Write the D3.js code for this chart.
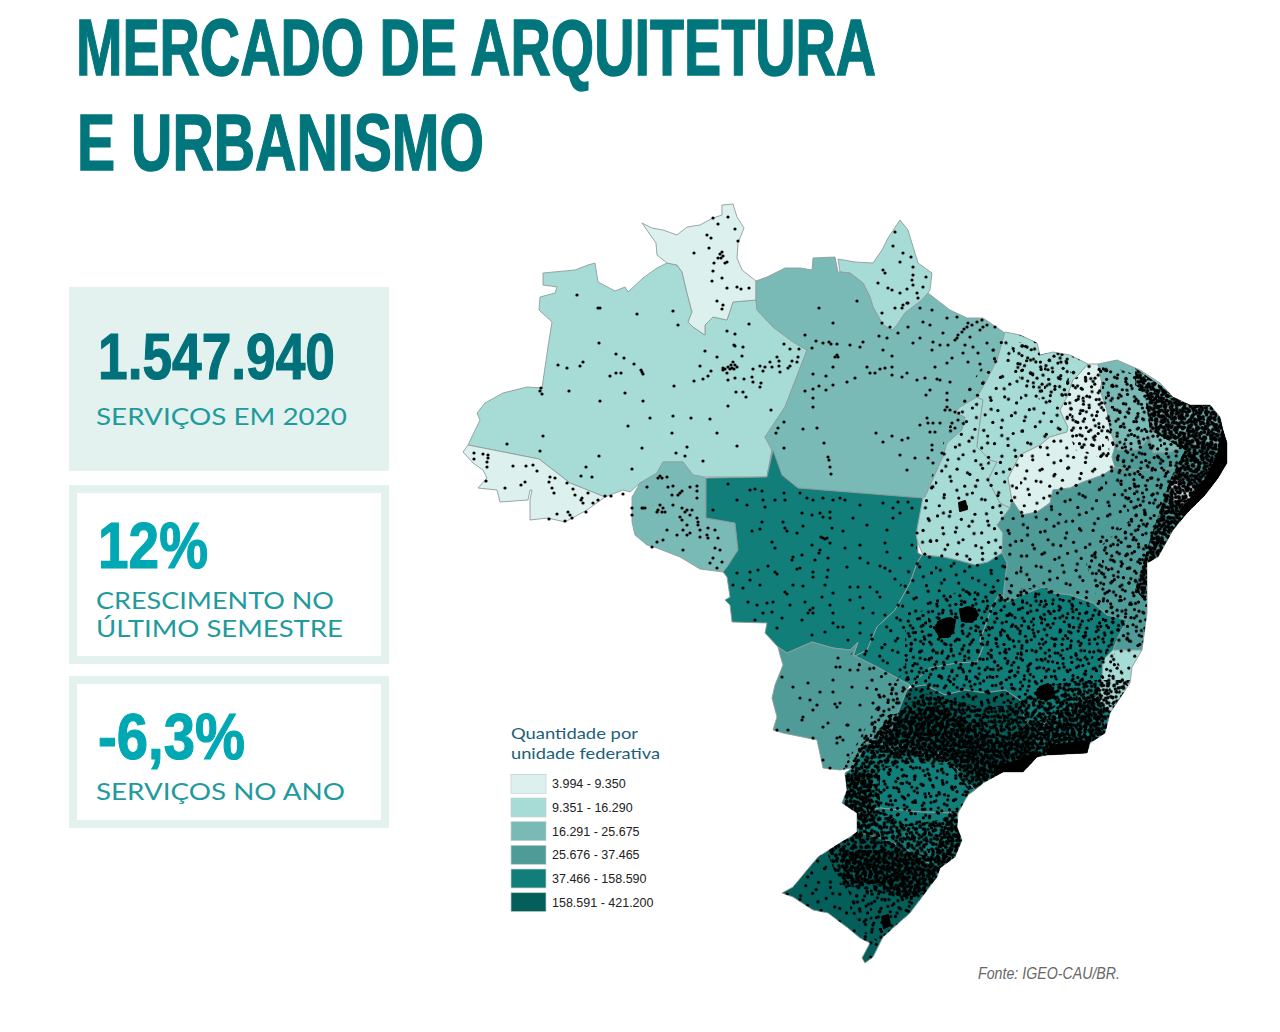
<!DOCTYPE html>
<html>
<head>
<meta charset="utf-8">
<title>Mercado de Arquitetura e Urbanismo</title>
<script src="https://cdn.jsdelivr.net/npm/d3@7"></script>
<style>
  html, body { margin: 0; background: #fff; }
  svg { display: block; }
</style>
</head>
<body>
<div id="chart"></div>
<script>
// legend classes
var classLabels = ["3.994 - 9.350", "9.351 - 16.290", "16.291 - 25.675", "25.676 - 37.465", "37.466 - 158.590", "158.591 - 421.200"];
var classColors = ["#dcf1ee", "#a6dbd6", "#79bab6", "#4f9b98", "#127e7a", "#045e5a"];

var stateNames = ["AM", "RR", "AC", "RO", "AP", "PA", "MT", "TO", "MA", "PI", "CE", "RN", "PB", "PE", "AL", "SE", "BA", "GO", "MS", "MG", "ES", "RJ", "SP", "PR", "SC", "RS"];
var stateClass = [1, 0, 0, 2, 1, 2, 4, 1, 1, 0, 2, 2, 2, 3, 3, 0, 3, 4, 3, 4, 1, 4, 5, 4, 4, 5];

// state outlines, in map units
var AM = [[677,265],[667,263],[657,268],[643,278],[628,292],[625,287],[615,291],[598,282],[595,263],[588,265],[575,270],[543,273],[543,285],[557,287],[555,293],[540,297],[539,310],[552,322],[548,347],[542,388],[527,387],[503,393],[485,403],[477,413],[480,420],[468,445],[539,459],[570,483],[605,497],[623,490],[630,492],[640,483],[657,473],[663,462],[683,462],[693,475],[705,477],[767,477],[772,450],[765,437],[785,407],[807,350],[793,342],[773,327],[757,310],[756,300],[733,302],[727,320],[713,317],[705,325],[705,335],[693,327],[688,322],[692,312],[687,293],[682,272]];
var RR = [[642,223],[652,228],[663,230],[677,235],[687,227],[700,225],[713,218],[722,215],[722,205],[733,204],[737,217],[744,228],[738,243],[737,258],[742,270],[756,281],[756,300],[733,302],[727,320],[713,317],[705,325],[705,335],[693,327],[688,322],[692,312],[687,293],[682,272],[677,265],[667,263],[657,255],[656,243]];
var AC = [[463,452],[473,463],[483,470],[487,478],[478,488],[497,490],[500,502],[528,500],[530,490],[532,490],[530,500],[530,520],[548,518],[565,522],[587,510],[605,497],[570,483],[539,459],[468,445]];
var RO = [[632,497],[640,483],[657,473],[663,462],[683,462],[693,475],[706,478],[706,518],[735,523],[738,550],[727,567],[723,572],[700,569],[680,557],[657,548],[647,545],[635,535],[632,522]];
var AP = [[838,259],[855,262],[873,263],[882,250],[888,238],[900,220],[908,230],[918,263],[932,273],[930,290],[928,293],[922,300],[905,313],[897,325],[892,330],[883,325],[873,307],[870,297],[863,283],[850,273],[840,272]];
var PA = [[807,350],[785,407],[765,437],[772,450],[767,477],[773,450],[782,475],[798,488],[923,498],[925,497],[940,463],[943,457],[947,443],[962,430],[965,417],[955,413],[960,407],[977,397],[983,387],[997,360],[1005,333],[983,318],[967,318],[950,310],[937,300],[928,293],[922,300],[905,313],[897,325],[892,330],[883,325],[873,307],[870,297],[863,283],[850,273],[838,272],[835,257],[813,258],[812,270],[800,268],[785,268],[767,277],[756,281],[756,300],[757,310],[773,327],[793,342]];
var MT = [[706,478],[767,477],[773,450],[782,475],[798,488],[923,498],[917,530],[918,553],[922,555],[917,563],[910,583],[895,610],[877,627],[867,650],[853,657],[858,642],[850,650],[833,648],[812,642],[787,653],[778,647],[765,633],[767,623],[732,622],[730,605],[725,600],[730,597],[727,577],[723,572],[727,567],[738,550],[735,523],[706,518]];
var TO = [[955,413],[960,407],[977,397],[983,400],[978,437],[977,447],[990,460],[997,462],[988,480],[1000,503],[1010,508],[997,525],[1003,533],[1002,553],[988,562],[975,565],[957,560],[943,557],[923,555],[918,543],[916,535],[923,497],[925,497],[940,463],[943,457],[947,443],[962,430],[965,417]];
var MA = [[1005,332],[1020,335],[1037,343],[1040,355],[1053,352],[1070,355],[1088,364],[1080,373],[1073,380],[1067,397],[1060,410],[1063,417],[1068,427],[1067,432],[1050,437],[1040,445],[1020,455],[1008,478],[1012,500],[1010,508],[1000,503],[988,480],[997,462],[990,460],[977,447],[978,437],[983,400],[977,397],[983,387],[997,360]];
var PI = [[1088,364],[1098,364],[1102,383],[1100,390],[1107,410],[1110,430],[1117,440],[1112,457],[1115,467],[1103,475],[1083,482],[1070,488],[1053,490],[1050,503],[1037,512],[1022,515],[1012,500],[1008,478],[1020,455],[1040,445],[1050,437],[1067,432],[1068,427],[1063,417],[1060,410],[1067,397],[1073,380],[1080,373]];
var CE = [[1098,364],[1117,360],[1140,370],[1160,383],[1173,397],[1168,405],[1157,423],[1150,437],[1138,450],[1117,450],[1110,430],[1107,410],[1100,390],[1102,383]];
var RN = [[1168,405],[1173,397],[1190,405],[1210,405],[1220,417],[1223,430],[1180,428],[1165,420],[1157,423]];
var PB = [[1150,437],[1157,423],[1165,420],[1180,428],[1223,430],[1227,443],[1190,445],[1170,452],[1153,453]];
var PE = [[1117,450],[1138,450],[1150,437],[1153,453],[1170,452],[1190,445],[1227,443],[1227,463],[1190,465],[1160,470],[1130,470],[1115,467],[1112,457],[1117,440]];
var AL = [[1160,470],[1190,465],[1227,463],[1218,478],[1205,495],[1175,477]];
var SE = [[1170,480],[1175,477],[1205,495],[1187,513],[1170,495]];
var BA = [[1010,508],[1012,500],[1022,515],[1037,512],[1050,503],[1053,490],[1070,488],[1083,482],[1103,475],[1115,467],[1130,470],[1160,470],[1175,477],[1170,480],[1170,495],[1187,513],[1173,530],[1158,557],[1147,563],[1147,613],[1142,650],[1113,650],[1118,637],[1127,620],[1107,615],[1093,603],[1070,595],[1053,593],[1043,587],[1027,593],[1007,602],[1003,597],[1007,563],[1002,553],[1003,533],[997,525]];
var GO = [[922,555],[943,557],[957,560],[975,565],[988,562],[1002,553],[1007,563],[1003,597],[1000,593],[992,607],[985,627],[980,640],[983,647],[977,662],[957,663],[930,668],[916,680],[912,687],[910,685],[877,667],[853,655],[853,657],[867,650],[877,627],[895,610],[910,583],[917,563]];
var MS = [[778,647],[787,653],[812,642],[833,648],[850,650],[858,642],[853,655],[877,667],[910,685],[907,690],[890,733],[867,743],[852,768],[840,770],[823,768],[817,740],[783,733],[773,730],[777,717],[772,698],[775,685],[783,665],[780,655]];
var MG = [[1003,597],[1007,602],[1027,593],[1043,587],[1053,593],[1070,595],[1093,603],[1107,615],[1127,620],[1118,637],[1113,650],[1103,660],[1102,680],[1097,697],[1080,703],[1060,715],[1045,722],[1035,730],[1025,720],[1020,700],[1005,690],[985,693],[965,690],[945,695],[925,685],[912,687],[916,680],[930,668],[957,663],[977,662],[983,647],[980,640],[985,627],[992,607],[1000,593]];
var ES = [[1113,650],[1142,650],[1132,667],[1130,683],[1110,713],[1097,697],[1102,680],[1103,660]];
var RJ = [[1097,697],[1110,713],[1105,733],[1090,743],[1087,753],[1047,755],[1037,757],[1035,745],[1045,722],[1060,715],[1080,703]];
var SP = [[907,690],[912,687],[925,685],[945,695],[965,690],[985,693],[1005,690],[1020,700],[1025,720],[1035,730],[1045,722],[1035,745],[1037,757],[1023,772],[1003,772],[983,783],[975,790],[958,770],[935,750],[900,745],[867,743],[890,733]];
var PR = [[852,768],[867,743],[900,745],[935,750],[958,770],[975,790],[968,795],[958,813],[920,812],[880,808],[857,813],[842,803],[847,790],[845,773]];
var SC = [[857,813],[880,808],[920,812],[958,813],[957,827],[962,840],[955,857],[940,868],[917,858],[905,848],[880,838],[857,832]];
var RS = [[857,832],[880,838],[905,848],[917,858],[940,868],[937,877],[925,893],[910,913],[893,928],[883,937],[873,957],[865,963],[862,958],[870,943],[860,938],[848,928],[828,913],[813,910],[793,897],[782,893],[793,887],[807,870],[818,857],[840,843],[850,837]];
var stateRings = [AM, RR, AC, RO, AP, PA, MT, TO, MA, PI, CE, RN, PB, PE, AL, SE, BA, GO, MS, MG, ES, RJ, SP, PR, SC, RS];

// service points that can be told apart in the north and centre-west
var pointsNorth = [[713,218],[728,217],[718,224],[735,229],[707,235],[711,238],[738,241],[709,248],[694,253],[722,252],[720,254],[723,256],[721,258],[718,258],[714,263],[725,263],[727,262],[713,271],[712,281],[722,278],[727,288],[737,287],[741,289],[749,288],[717,301],[723,305],[722,309],
[577,295],[598,308],[600,308],[637,314],[673,311],[678,325],[749,324],[727,331],[735,334],[735,346],[734,345],[743,347],[599,343],[705,351],[717,357],[742,356],[616,354],[624,358],[583,362],[580,366],[558,365],[567,368],[634,364],[642,372],[641,370],[643,374],[621,373],[616,373],[610,376],[700,366],[711,371],[708,376],[703,379],[694,381],[733,362],[731,365],[735,365],[728,367],[732,368],[737,367],[730,369],[734,369],[725,369],[723,368],[723,370],[727,373],[728,380],[735,378],[744,379],[753,369],[752,377],[753,382],[760,366],[765,367],[763,371],[770,362],[777,357],[779,361],[772,367],[779,366],[780,372],[792,361],[790,366],[788,368],[797,362],[798,357],[799,349],[790,349],[784,344],[761,383],[760,387],[674,386],[736,392],[743,392],[746,397],[728,406],[771,410],[625,393],[600,401],[643,401],[569,391],[541,388],[542,394],[540,391],[673,416],[691,418],[710,419],[650,418],[628,426],[717,433],[672,433],[543,436],[507,444],[540,451],[642,448],[687,447],[676,453],[685,456],[737,446],[703,461],[599,456],[586,467],[632,469],[581,476],[592,477],
[474,453],[483,454],[488,455],[488,458],[474,459],[487,462],[487,467],[513,466],[526,466],[533,465],[537,471],[486,481],[505,488],[525,482],[521,485],[550,477],[555,478],[549,482],[552,488],[554,493],[567,483],[573,489],[575,495],[582,498],[581,500],[583,503],[588,493],[593,503],[598,500],[557,514],[549,519],[565,521],[568,512],[570,515],[572,518],[586,512],[605,496],[611,496],[623,494],
[647,487],[658,478],[660,476],[662,478],[667,477],[668,487],[673,486],[690,487],[697,486],[697,491],[680,493],[678,495],[682,491],[672,495],[697,498],[660,505],[658,510],[663,508],[642,508],[645,508],[632,508],[632,515],[657,512],[665,512],[673,505],[682,508],[687,510],[685,512],[690,515],[680,517],[697,518],[698,525],[700,530],[687,525],[683,530],[667,530],[677,535],[690,533],[708,528],[707,535],[715,530],[692,510],[643,508],[662,512],[682,520],[698,522],[687,535],[700,537],[708,538],[718,538],[720,550],[715,548],[663,540],[657,542],[683,550],[713,558],[710,563],[717,568],[722,562],[652,547],
[819,308],[833,323],[805,335],[816,341],[823,343],[829,342],[831,344],[837,344],[812,348],[837,355],[835,357],[838,357],[833,367],[813,374],[826,376],[833,385],[819,386],[813,389],[805,391],[826,390],[813,398],[813,407],[803,429],[817,428],[784,422],[778,428],[776,433],[784,448],[824,443],[828,457],[829,460],[830,467],[831,474],
[857,301],[879,336],[887,338],[883,350],[850,345],[860,347],[863,342],[892,356],[867,367],[870,373],[875,373],[880,369],[885,368],[892,367],[892,375],[902,377],[907,373],[847,382],[855,378],[917,380],[925,378],[937,379],[940,380],[950,382],[930,390],[926,395],[947,393],[947,400],[876,433],[892,436],[883,442],[902,440],[908,438],[900,455],[915,458],[907,470],[908,327],[898,333],[920,338],[913,343],[932,310],[923,322],[947,318],[957,317],[930,325],[943,333],[933,342],[940,345],[932,350],[948,345],[965,345],[973,347],[978,353],[963,353],[968,362],[980,364],[952,358],[935,367],[947,363],[970,337],[987,343],[993,350],[983,327],[957,338],[962,332],[967,327],[972,325],[977,322],[982,320],[987,325],[995,327],[955,340],[958,335],[964,329],[968,323],[980,330],
[947,407],[945,410],[950,410],[955,412],[927,418],[928,423],[933,423],[940,423],[930,432],[952,423],[955,428],[958,420],[920,425],[935,432],[932,445],[932,450],[928,458],[933,463],[942,453],
[895,232],[893,246],[903,253],[900,262],[911,257],[883,270],[885,273],[913,267],[913,275],[912,280],[926,277],[878,283],[888,288],[892,290],[900,293],[907,289],[913,285],[917,293],[918,298],[923,287],[895,308],[882,313],[882,323],[890,327],[903,305],[902,308],[907,303],[908,303],[920,308]];

var pointsCentreWest = [[728,484],[750,490],[755,489],[762,491],[737,500],[747,505],[763,500],[765,507],[775,500],[784,493],[785,500],[800,493],[807,498],[813,500],[823,498],[833,500],[840,498],[845,500],[860,505],[883,503],[898,502],[908,502],[893,508],[900,513],[912,508],[820,513],[830,512],[823,517],[830,518],[812,515],[802,513],[713,510],[762,522],[783,522],[785,528],[787,531],[760,529],[752,531],[803,526],[797,533],[832,528],[843,531],[867,525],[853,518],[893,518],[887,530],[917,533],[823,538],[821,537],[825,539],[827,538],[772,542],[775,548],[812,545],[830,543],[820,550],[819,553],[860,545],[885,543],[887,552],[845,548],[912,545],[793,557],[802,555],[815,560],[828,558],[860,558],[868,563],[880,566],[900,558],[792,560],[750,572],[758,570],[768,566],[775,572],[777,574],[800,568],[797,569],[813,572],[813,577],[847,567],[828,570],[885,568],[890,571],[737,573],[733,585],[743,588],[750,580],[760,585],[785,592],[787,594],[793,585],[803,586],[827,577],[825,585],[850,587],[858,587],[870,587],[877,592],[895,579],[833,593],[805,602],[813,608],[810,610],[808,613],[813,613],[748,602],[757,605],[767,603],[773,602],[763,613],[772,612],[790,605],[822,597],[830,605],[850,600],[860,597],[880,597],[833,613],[833,623],[838,627],[843,627],[860,623],[863,608],[885,615],[755,620],[782,618],[802,620],[777,628],[812,635],[825,632],[848,640],[860,633],[873,613],
[838,658],[840,667],[836,667],[850,670],[858,670],[833,680],[782,677],[808,683],[793,687],[852,687],[867,688],[820,692],[833,692],[892,690],[840,703],[837,707],[835,704],[800,698],[810,700],[817,705],[860,705],[883,715],[803,717],[802,720],[813,710],[847,725],[823,727],[840,737],[837,738],[843,740],[828,723],[813,738],[788,730],[777,730],[860,730],[848,725],[867,740],[823,760],[837,743],[848,755],[830,768],[873,703],[880,697],[875,722]];

// areas where the points merge: each level is drawn on top of the one before it
var eastBase = [[955,410],[1005,330],[1100,360],[1230,420],[1230,470],[1150,570],[1150,650],[1130,700],[1090,760],[1000,790],[965,830],[950,870],[880,965],[780,895],[825,845],[845,830],[840,775],[880,700],[850,655],[880,625],[915,555],[925,495]];
var southMid = [[905,620],[960,590],[1005,590],[1043,587],[1125,620],[1113,650],[1130,690],[1090,760],[1000,790],[965,830],[950,870],[920,900],[890,950],[860,930],[845,880],[825,848],[850,830],[840,775],[880,700],[905,670]];
var northeastMid = [[1098,362],[1160,383],[1230,420],[1230,470],[1190,515],[1150,570],[1148,650],[1110,640],[1085,560],[1130,520],[1115,470],[1110,430]];
var maranhaoMid = [[1010,340],[1075,355],[1065,395],[1040,400],[1020,380]];
var piauiMid = [[1062,385],[1100,365],[1108,430],[1110,460],[1075,450],[1065,420]];
var spHeavy = [[893,717],[923,693],[980,707],[1013,705],[1043,687],[1080,680],[1135,680],[1110,735],[1087,755],[1040,760],[1020,775],[985,785],[968,790],[950,765],[905,762],[880,770],[870,790],[850,775],[860,745]];
var southHeavy = [[845,775],[880,775],[880,810],[905,825],[940,820],[958,810],[965,840],[945,870],[925,890],[905,900],[870,890],[840,885],[825,848],[850,835]];
var neCoast = [[1175,398],[1215,405],[1230,440],[1230,470],[1190,518],[1160,556],[1145,600],[1135,590],[1150,540],[1170,480],[1185,450],[1150,430],[1145,395]];
var ceCoast = [[1135,368],[1175,396],[1155,400],[1135,385]];
var spDense = [[890,715],[940,705],[1000,740],[1040,720],[1100,690],[1105,735],[1087,755],[1040,762],[1020,775],[985,785],[950,760],[900,755],[865,750]];
var prWest = [[845,775],[870,770],[875,825],[855,835],[845,805]];
var rsNorth = [[840,850],[900,850],[945,860],[925,893],[905,900],[880,885],[845,880]];
var scCoast = [[950,810],[965,815],[965,845],[945,870],[935,855]];
var lightZones = [eastBase];
var midZones = [southMid, northeastMid, maranhaoMid, piauiMid];
var heavyZones = [spHeavy, southHeavy, neCoast, ceCoast];
var denseZones = [spDense, prWest, rsNorth, scCoast, neCoast, ceCoast];

// merged black patches
var solidPatches = [
  [[955,620],[950,618],[945,619],[938,622],[936,630],[940,637],[948,637],[953,632]],
  [[960,610],[968,607],[975,609],[978,615],[972,622],[962,621]],
  [[1040,687],[1048,684],[1053,690],[1050,698],[1042,699],[1036,694]],
  [[1050,746],[1088,741],[1087,754],[1047,756]],
  [[995,768],[1020,760],[1037,752],[1038,760],[1020,772],[995,775]],
  [[1224,425],[1229,440],[1229,466],[1205,495],[1190,512],[1178,515],[1205,480],[1218,455]],
  [[882,917],[888,915],[890,925],[884,928]],
  [[959,503],[965,501],[967,509],[960,511]]
];

// an irregular hand placed tile of points, repeated for the merged areas
var dotTile = [[3,7],[18,2],[31,11],[47,5],[62,13],[78,3],[92,10],[9,21],[24,26],[40,19],[55,27],[70,22],[86,24],[2,36],[15,41],[33,35],[48,42],[63,38],[77,44],[95,37],[8,54],[26,52],[41,58],[56,51],[72,57],[88,52],[1,68],[19,66],[35,72],[50,65],[66,71],[82,67],[96,74],[11,82],[28,86],[44,80],[59,88],[74,83],[90,89],[5,95],[37,96],[68,97]];

var w = 1280;
var h = 1032;
var titleColor = "#00767c";
var boxColor = "#e3f2ee";
var darkNumber = "#00717a";
var lightNumber = "#00a8b4";
var labelColor = "#1f9a9d";

var svg = d3.select("#chart")
    .append("svg")
    .attr("width", w)
    .attr("height", h);

var defs = svg.append("defs");

// map
var path = d3.geoPath(d3.geoIdentity());
var color = d3.scaleOrdinal().domain(d3.range(classColors.length)).range(classColors);

function toFeature(ring) {
    return { type: "Polygon", coordinates: [ring.concat([ring[0]])] };
}

function addPattern(id, size, r, angle) {
    var tile = d3.scaleLinear().domain([0, 100]).range([0, size]);
    var p = defs.append("pattern")
        .attr("id", id)
        .attr("patternUnits", "userSpaceOnUse")
        .attr("width", size)
        .attr("height", size)
        .attr("patternTransform", "rotate(" + angle + ")");
    p.selectAll("circle")
        .data(dotTile)
        .enter()
        .append("circle")
        .attr("cx", function (d) { return tile(d[0]); })
        .attr("cy", function (d) { return tile(d[1]); })
        .attr("r", r)
        .attr("fill", "#000");
}

var layers = [
    { id: "lightA", size: 85, r: 1.6, angle: 0, zones: lightZones },
    { id: "lightB", size: 97, r: 1.6, angle: 37, zones: lightZones },
    { id: "midA", size: 58, r: 1.6, angle: 0, zones: midZones },
    { id: "midB", size: 67, r: 1.6, angle: 29, zones: midZones },
    { id: "heavyA", size: 41, r: 1.7, angle: 11, zones: heavyZones },
    { id: "heavyB", size: 43, r: 1.7, angle: 23, zones: heavyZones },
    { id: "heavyC", size: 47, r: 1.7, angle: 61, zones: heavyZones },
    { id: "denseA", size: 37, r: 1.8, angle: 47, zones: denseZones },
    { id: "denseB", size: 33, r: 1.8, angle: 73, zones: denseZones }
];

layers.forEach(function (l) { addPattern(l.id, l.size, l.r, l.angle); });

defs.append("clipPath")
    .attr("id", "brazil")
    .selectAll("path")
    .data(stateRings)
    .enter()
    .append("path")
    .attr("d", function (d) { return path(toFeature(d)); });

var map = svg.append("g");

map.selectAll(".state")
    .data(stateRings)
    .enter()
    .append("path")
    .attr("class", "state")
    .attr("d", function (d) { return path(toFeature(d)); })
    .attr("fill", function (d, i) { return color(stateClass[i]); })
    .attr("stroke", "#8f9d9c")
    .attr("stroke-width", 0.9)
    .attr("stroke-linejoin", "round");

var dots = map.append("g").attr("clip-path", "url(#brazil)");

layers.forEach(function (l) {
    dots.selectAll("." + l.id)
        .data(l.zones)
        .enter()
        .append("path")
        .attr("class", l.id)
        .attr("d", function (d) { return path(toFeature(d)); })
        .attr("fill", "url(#" + l.id + ")");
});

dots.selectAll(".patch")
    .data(solidPatches)
    .enter()
    .append("path")
    .attr("class", "patch")
    .attr("d", function (d) { return path(toFeature(d)); })
    .attr("fill", "#000")
    .attr("stroke", "#000")
    .attr("stroke-width", 2)
    .attr("stroke-linejoin", "round");

map.selectAll(".point")
    .data(pointsNorth.concat(pointsCentreWest))
    .enter()
    .append("circle")
    .attr("class", "point")
    .attr("cx", function (d) { return d[0]; })
    .attr("cy", function (d) { return d[1]; })
    .attr("r", 1.6)
    .attr("fill", "#000");

// title
function addText(str, x, y, size, width, fill, family, weight, style, thick) {
    return svg.append("text")
        .attr("x", x)
        .attr("y", y)
        .attr("font-size", size)
        .attr("font-family", family)
        .attr("font-weight", weight || "normal")
        .attr("font-style", style || "normal")
        .attr("fill", fill)
        .attr("stroke", thick ? fill : "none")
        .attr("stroke-width", thick || 0)
        .attr("textLength", width)
        .attr("lengthAdjust", "spacingAndGlyphs")
        .text(str);
}

var narrow = "'Liberation Sans Narrow', 'Liberation Sans', sans-serif";
var plain = "Lato, 'Open Sans', sans-serif";

addText("MERCADO DE ARQUITETURA", 76, 75, 79, 800, titleColor, narrow, "bold", "normal", 1.4);
addText("E URBANISMO", 77, 170, 79, 407, titleColor, narrow, "bold", "normal", 1.4);

// boxes on the left
svg.append("rect").attr("x", 69).attr("y", 287).attr("width", 320).attr("height", 184).attr("fill", boxColor);
svg.append("rect").attr("x", 73).attr("y", 489).attr("width", 312).attr("height", 171).attr("fill", "#fff").attr("stroke", boxColor).attr("stroke-width", 8);
svg.append("rect").attr("x", 73).attr("y", 680).attr("width", 312).attr("height", 144).attr("fill", "#fff").attr("stroke", boxColor).attr("stroke-width", 8);

addText("1.547.940", 98, 379, 65, 237, darkNumber, narrow, "bold", "normal", 1.2);
addText("SERVIÇOS EM 2020", 96, 425, 24, 251, labelColor, plain);
addText("12%", 98, 568, 65, 110, lightNumber, narrow, "bold", "normal", 1.2);
addText("CRESCIMENTO NO", 96, 609, 24, 238, labelColor, plain);
addText("ÚLTIMO SEMESTRE", 96, 637, 24, 247, labelColor, plain);
addText("-6,3%", 98, 759, 65, 147, lightNumber, narrow, "bold", "normal", 1.2);
addText("SERVIÇOS NO ANO", 96, 800, 24, 249, labelColor, plain);

// legend
addText("Quantidade por", 511, 739, 16, 127, "#1c5f78", plain);
addText("unidade federativa", 511, 759, 16, 149, "#1c5f78", plain);

var legendY = d3.scaleBand()
    .domain(classLabels)
    .range([772, 914])
    .paddingInner(0.2)
    .paddingOuter(0.1);

var legend = svg.selectAll(".legend")
    .data(classLabels)
    .enter()
    .append("g")
    .attr("class", "legend")
    .attr("transform", function (d) { return "translate(511," + legendY(d) + ")"; });

legend.append("rect")
    .attr("width", 35)
    .attr("height", legendY.bandwidth())
    .attr("fill", function (d, i) { return classColors[i]; })
    .attr("stroke", "#c6cfcd")
    .attr("stroke-width", 0.7);

legend.append("text")
    .attr("x", 41)
    .attr("y", legendY.bandwidth() / 2 + 4.5)
    .attr("font-family", "'Liberation Sans', Arial, sans-serif")
    .attr("font-size", "12.5px")
    .attr("fill", "#222")
    .text(function (d) { return d; });

// source
addText("Fonte: IGEO-CAU/BR.", 978, 979, 17, 142, "#666", narrow, "normal", "italic");
</script>
</body>
</html>
